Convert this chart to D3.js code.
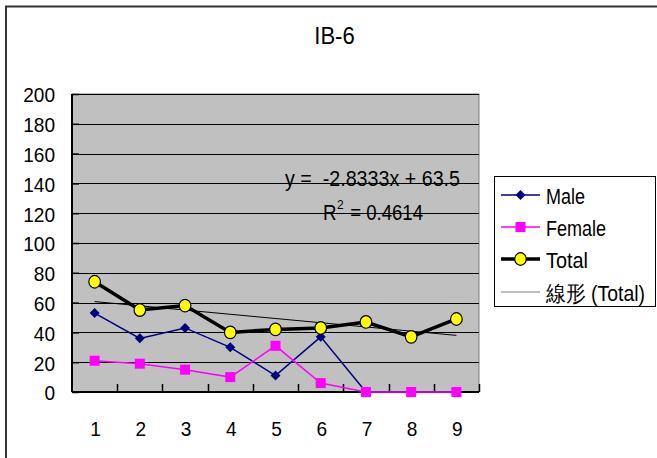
<!DOCTYPE html>
<html><head><meta charset="utf-8">
<script src="https://cdn.jsdelivr.net/npm/d3@7"></script>
<style>
html,body{margin:0;padding:0;background:#fff;}
text{font-family:"Liberation Sans",Arial,sans-serif;fill:#000;}
</style></head>
<body><svg id="c" width="657" height="458"></svg>
<script>
const categories = [1,2,3,4,5,6,7,8,9];
const male   = [53,36,43,30,11,37,0,0,0];
const female = [21,19,15,10,31,6,0,0,0];
const total  = [74,55,58,40,42,43,47,37,49];
const yTicks = [0,20,40,60,80,100,120,140,160,180,200];
const trendSlope = -2.8333, trendIntercept = 63.5;
const title = "IB-6";
const eqLine1 = "y =  -2.8333x + 63.5";
const eqR2 = "0.4614";
const legendNames = ["Male","Female","Total","線形 (Total)"];

const svg = d3.select("#c");
const L=72,R=479,T=94,B=392;
const x = d3.scaleBand().domain(categories).range([L,R]).padding(0);
const cx = d => x(d)+x.bandwidth()/2;
const y = d3.scaleLinear().domain([0,200]).range([B,T]);

function sText(g, px, py, size, sx, anchor){
  return g.append("text").attr("transform",`translate(${px},${py}) scale(${sx},1)`)
    .attr("text-anchor",anchor||"start").style("font-size",size+"px");
}

// outer frame
svg.append("line").attr("x1",5).attr("x2",657).attr("y1",6.5).attr("y2",6.5).attr("stroke","#333").attr("stroke-width",2);
svg.append("line").attr("x1",6).attr("x2",6).attr("y1",6).attr("y2",458).attr("stroke","#333").attr("stroke-width",2);

// title
sText(svg,334.5,44,23,0.96,"middle").text(title);

// plot area
svg.append("rect").attr("x",L).attr("y",T).attr("width",R-L).attr("height",B-T).attr("fill","#c0c0c0").attr("stroke","#808080").attr("stroke-width",1);

// gridlines
svg.append("g").selectAll("line").data(yTicks.filter(v=>v>0)).join("line")
  .attr("x1",L).attr("x2",R).attr("y1",d=>Math.round(y(d))+0.5).attr("y2",d=>Math.round(y(d))+0.5)
  .attr("stroke","#000").attr("stroke-width",1);

// y axis
const yAxis = svg.append("g").attr("transform",`translate(${L},0)`)
  .call(d3.axisRight(y).tickValues(yTicks).tickSize(7).tickFormat(""));
yAxis.select(".domain").attr("stroke","#000").attr("stroke-width",2).attr("d",`M0,${T}V${B}`);
yAxis.selectAll(".tick line").attr("stroke","#000").attr("stroke-width",1.5);
const yl = svg.append("g");
yTicks.forEach(v=>{ sText(yl,55,y(v)+8.3,20.5,0.93,"end").text(v); });

// x axis
const xAxis = svg.append("g").attr("transform",`translate(0,${B})`)
  .call(d3.axisTop(x).tickSize(0).tickFormat(""));
xAxis.select(".domain").attr("stroke","#000").attr("stroke-width",2).attr("d",`M${L},0H${R}`);
xAxis.selectAll(".tick").remove();
const bounds = categories.slice(1).map(c=>x(c)).concat([R]);
svg.append("g").selectAll("line").data(bounds).join("line")
  .attr("x1",d=>Math.round(d)+0.5).attr("x2",d=>Math.round(d)+0.5).attr("y1",B-8).attr("y2",B)
  .attr("stroke","#000").attr("stroke-width",1.5);
const xl = svg.append("g");
categories.forEach(c=>{ sText(xl,cx(c)+1,436,20.5,0.93,"middle").text(c); });

const line = d3.line().x((d,i)=>cx(categories[i])).y(d=>y(d));

// Male
svg.append("path").attr("d",line(male)).attr("fill","none").attr("stroke","#000080").attr("stroke-width",1.5);
const diamond = d3.symbol().type(d3.symbolSquare).size(50);
svg.append("g").selectAll("path").data(male).join("path")
  .attr("d",diamond).attr("transform",(d,i)=>`translate(${cx(categories[i])},${y(d)}) rotate(45)`).attr("fill","#000080");

// Female
svg.append("path").attr("d",line(female)).attr("fill","none").attr("stroke","#ff00ff").attr("stroke-width",1.5);
svg.append("g").selectAll("rect").data(female).join("rect")
  .attr("x",(d,i)=>cx(categories[i])-5).attr("y",d=>y(d)-5).attr("width",10).attr("height",10).attr("fill","#ff00ff");

// Total
svg.append("path").attr("d",line(total)).attr("fill","none").attr("stroke","#000").attr("stroke-width",3.5);

// trendline
const t0 = categories[0], t1 = categories[categories.length-1];
svg.append("line").attr("x1",cx(t0)).attr("y1",y(trendSlope*t0+trendIntercept))
  .attr("x2",cx(t1)).attr("y2",y(trendSlope*t1+trendIntercept)).attr("stroke","#000").attr("stroke-width",1);

svg.append("g").selectAll("ellipse").data(total).join("ellipse")
  .attr("cx",(d,i)=>cx(categories[i])).attr("cy",d=>y(d)).attr("rx",5.8).attr("ry",6.3)
  .attr("fill","#ffff00").attr("stroke","#000").attr("stroke-width",1.2);

// equation
svg.append("text").attr("x",285).attr("y",186).style("font-size","22px").attr("xml:space","preserve")
  .attr("textLength",175).attr("lengthAdjust","spacingAndGlyphs").text(eqLine1);
svg.append("text").attr("x",323).attr("y",220).style("font-size","22px")
  .attr("textLength",13.5).attr("lengthAdjust","spacingAndGlyphs").text("R");
svg.append("text").attr("x",337).attr("y",209).style("font-size","12px").text("2");
svg.append("text").attr("x",345).attr("y",220).style("font-size","22px").attr("xml:space","preserve")
  .attr("textLength",78).attr("lengthAdjust","spacingAndGlyphs").text(" = "+eqR2);

// legend
svg.append("rect").attr("x",494.5).attr("y",176.5).attr("width",161).attr("height",130).attr("fill","#fff").attr("stroke","#000").attr("stroke-width",1);
const ly = [195,227,259,292];
const legendWidths = [39,60,42,99];
const lx1=501,lx2=540,lm=520.5;
const lg = svg.append("g");
lg.append("line").attr("x1",lx1).attr("x2",lx2).attr("y1",ly[0]).attr("y2",ly[0]).attr("stroke","#000080").attr("stroke-width",1.5);
lg.append("path").attr("d",diamond).attr("transform",`translate(${lm},${ly[0]}) rotate(45)`).attr("fill","#000080");
lg.append("line").attr("x1",lx1).attr("x2",lx2).attr("y1",ly[1]).attr("y2",ly[1]).attr("stroke","#ff00ff").attr("stroke-width",1.5);
lg.append("rect").attr("x",lm-5).attr("y",ly[1]-5).attr("width",10).attr("height",10).attr("fill","#ff00ff");
lg.append("line").attr("x1",lx1).attr("x2",lx2).attr("y1",ly[2]).attr("y2",ly[2]).attr("stroke","#000").attr("stroke-width",3.5);
lg.append("ellipse").attr("cx",lm).attr("cy",ly[2]).attr("rx",5.8).attr("ry",6.3).attr("fill","#ffff00").attr("stroke","#000").attr("stroke-width",1.2);
lg.append("line").attr("x1",lx1).attr("x2",lx2).attr("y1",ly[3]).attr("y2",ly[3]).attr("stroke","#808080").attr("stroke-width",1.2);
legendNames.forEach((n,i)=>{
  lg.append("text").attr("x",546).attr("y",ly[i]+8.5).style("font-size","21.5px")
    .attr("textLength",legendWidths[i]).attr("lengthAdjust","spacingAndGlyphs").text(n);
});
</script></body></html>
